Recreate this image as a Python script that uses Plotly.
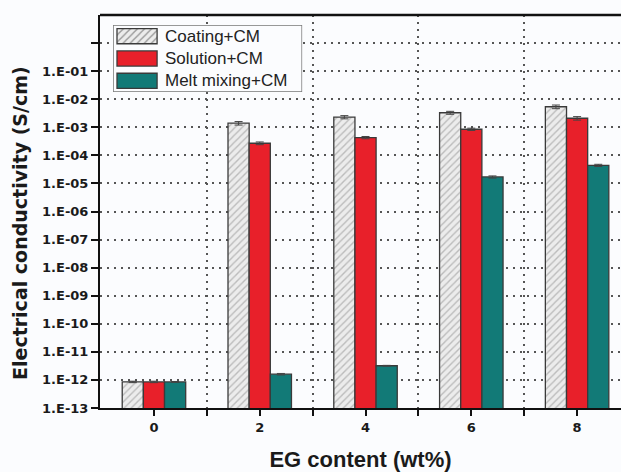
import plotly.graph_objects as go

eg_content = [0, 2, 4, 6, 8]
coating = [8.5e-13, 1.4e-3, 2.3e-3, 3.3e-3, 5.4e-3]
coating_err = [0.5e-13, 0.2e-3, 0.3e-3, 0.4e-3, 0.8e-3]
solution = [8.5e-13, 2.7e-4, 4.3e-4, 8.5e-4, 2.1e-3]
solution_err = [0.5e-13, 0.3e-4, 0.4e-4, 0.8e-4, 0.3e-3]
melt = [8.5e-13, 1.6e-12, 3.2e-12, 1.7e-5, 4.4e-5]
melt_err = [0.3e-13, 0.1e-12, 0.1e-12, 0.15e-5, 0.4e-5]

series_names = ["Coating+CM", "Solution+CM", "Melt mixing+CM"]
series_colors = ["#ececec", "#e8202a", "#127a77"]
series_patterns = ["/", "", ""]

ytick_vals = [10.0 ** e for e in range(-13, 1)]
ytick_text = ["1.E-13", "1.E-12", "1.E-11", "1.E-10", "1.E-09", "1.E-08", "1.E-07",
              "1.E-06", "1.E-05", "1.E-04", "1.E-03", "1.E-02", "1.E-01", ""]

BG = "#fbfcfe"
FONT = "Liberation Sans, Arial, sans-serif"
WIDE = "DejaVu Sans, sans-serif"
err_style = dict(type="data", visible=True, color="#444", thickness=1, width=4)
line_style = dict(color="#3a3a3a", width=1.3)
hatch = dict(fgcolor="#8a8a8a", bgcolor="#ececec", size=5, solidity=0.28)

fig = go.Figure()
for name, vals, errs, col, pat in zip(series_names, [coating, solution, melt],
                                      [coating_err, solution_err, melt_err],
                                      series_colors, series_patterns):
    marker = dict(color=col, line=line_style)
    if pat:
        marker["pattern"] = dict(shape=pat, **hatch)
    fig.add_trace(go.Bar(x=eg_content, y=vals, name=name,
                         error_y=dict(array=errs, **err_style),
                         marker=marker, showlegend=False))

# Custom legend drawn as an inset subplot (wide swatches like the original)
fig.add_trace(go.Bar(
    y=[0, 1, 2], x=[0.212] * 3, base=[0.021] * 3, orientation="h",
    xaxis="x2", yaxis="y2", width=0.68, showlegend=False, hoverinfo="skip",
    marker=dict(color=series_colors, line=line_style,
                pattern=dict(shape=series_patterns, **hatch)),
))

fig.update_layout(
    width=621, height=472,
    margin=dict(l=100, r=0, t=15, b=64),
    paper_bgcolor=BG, plot_bgcolor=BG,
    barmode="group", bargap=0.4, bargroupgap=0,
    font=dict(family=FONT, color="#1a1a1a"),
    showlegend=False,
    xaxis2=dict(domain=[0.025, 0.388], range=[0, 1], anchor="y2", visible=False),
    yaxis2=dict(domain=[0.804, 0.9746], range=[2.5, -0.5], anchor="x2", visible=False),
)

fig.add_shape(type="rect", xref="x2", yref="y2", x0=0, x1=1, y0=-0.5, y1=2.5,
              layer="between", fillcolor=BG, line=dict(color="#777", width=1.5))
for i, name in enumerate(series_names):
    fig.add_annotation(xref="x2", yref="y2", x=0.265, y=i, text=name, showarrow=False,
                       xanchor="left", yanchor="middle",
                       font=dict(size=17, color="#222", family=FONT))

# y-axis title (slightly below the axis centre, as in the original)
fig.add_annotation(xref="paper", yref="paper", x=-0.1536, y=0.4707,
                   text="<b>Electrical conductivity (S/cm)</b>", textangle=-90,
                   showarrow=False, xanchor="center", yanchor="middle",
                   font=dict(size=19, family=WIDE, color="#1a1a1a"))

fig.layout.xaxis.update(
    range=[-1.02, 8.83], tickvals=eg_content, ticktext=[str(v) for v in eg_content],
    ticks="outside", ticklen=6, tickwidth=2, tickcolor="#111",
    showline=True, linecolor="#111", linewidth=2, showgrid=False, zeroline=False,
    tickfont=dict(size=13, family=WIDE, weight="bold"),
    minor=dict(tickvals=[1, 3, 5, 7], ticks="outside", ticklen=6, tickwidth=2, tickcolor="#111",
               showgrid=True, gridcolor="#555", griddash="2px,5px", gridwidth=1.5),
    title=dict(text="<b>EG content (wt%)</b>", font=dict(size=22, family=FONT), standoff=19),
)
fig.layout.yaxis.update(
    type="log", range=[-13, 1], tickvals=ytick_vals, ticktext=ytick_text,
    ticks="outside", ticklen=7, tickwidth=2, tickcolor="#111",
    showline=True, linecolor="#111", linewidth=2,
    showgrid=True, gridcolor="#555", griddash="2px,5px", gridwidth=1.5, zeroline=False,
    tickfont=dict(size=13, family=WIDE, weight="bold"),
)
fig.add_shape(type="line", xref="paper", yref="paper", x0=0, x1=1, y0=1, y1=1,
              line=dict(color="#111", width=2.5))

fig.write_html("out.html")
